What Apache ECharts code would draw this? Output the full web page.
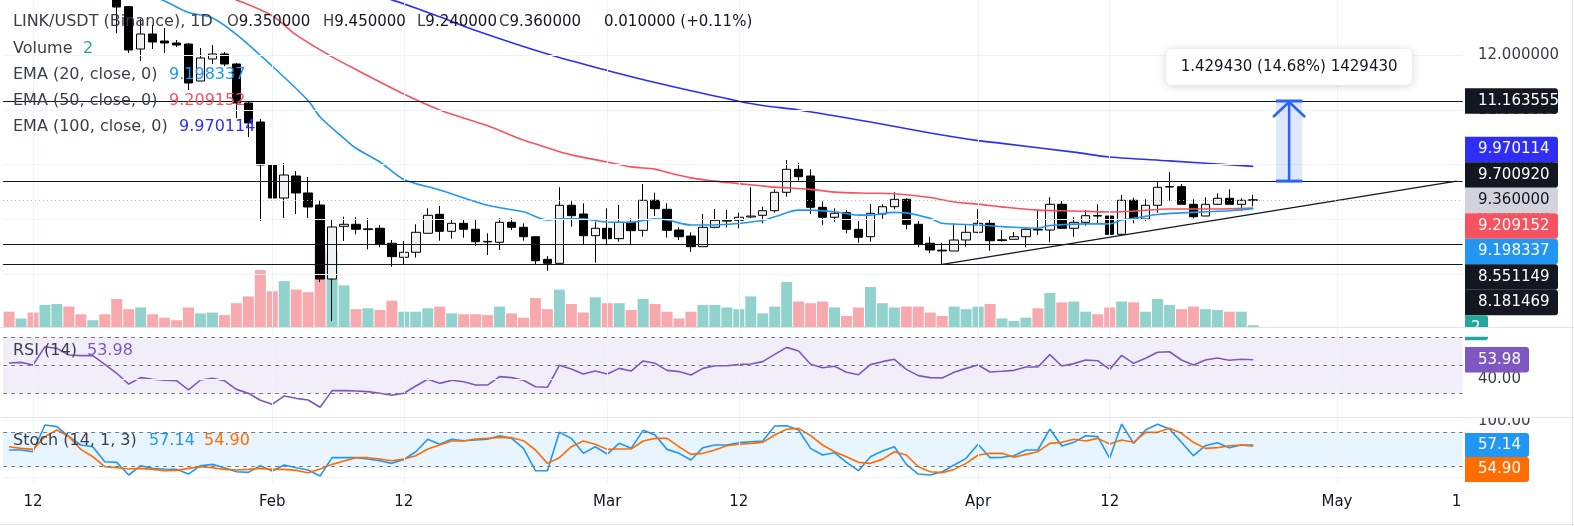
<!DOCTYPE html>
<html><head><meta charset="utf-8">
<script src="https://cdn.jsdelivr.net/npm/echarts@6/dist/echarts.min.js"></script>
<style>html,body{margin:0;padding:0;background:#fff}#c{width:1574px;height:526px}</style>
</head><body><div id="c"></div><script>
// ---------------- DATA ----------------
const CATEGORY_START = '2023-01-10';
const CATEGORY_END = '2023-05-11';
const CANDLE_START = '2023-01-10';

const opens = [14.10,13.85,14.00,13.60,13.90,14.20,13.80,13.55,13.75,13.30,
 12.886,12.113,12.387,12.259,12.223,12.204,11.529,11.931,12.022,11.839,
 11.127,10.780,9.995,9.392,9.794,9.484,9.264,7.913,8.875,8.912,
 8.815,8.839,8.565,8.309,8.401,8.748,9.094,8.784,8.930,8.821,
 8.600,8.583,8.948,8.857,8.685,8.272,8.199,9.259,9.100,8.704,
 8.839,8.649,8.948,8.802,9.350,9.186,8.808,8.698,8.503,8.857,
 8.970,8.985,9.045,9.076,9.160,9.496,9.916,9.794,9.222,9.040,
 9.124,8.820,8.685,9.100,9.233,9.368,8.912,8.565,8.440,8.424,
 8.625,8.766,8.930,8.616,8.638,8.685,8.820,8.808,9.277,8.839,
 8.948,9.070,9.063,8.729,9.350,9.008,9.259,9.593,9.599,9.277,
 9.063,9.277,9.387,9.277,9.350];
const closes = [13.85,14.00,13.60,13.90,14.20,13.80,13.55,13.75,13.30,12.88,
 12.095,12.387,12.241,12.223,12.186,11.492,11.949,12.022,11.839,11.127,
 10.762,9.995,9.392,9.812,9.484,9.228,7.913,8.863,8.912,8.821,
 8.830,8.552,8.321,8.401,8.766,9.076,8.784,8.930,8.821,8.594,
 8.590,8.948,8.857,8.685,8.247,8.199,9.259,9.069,8.704,8.839,
 8.649,8.948,8.795,9.350,9.197,8.802,8.685,8.503,8.857,8.985,
 8.985,9.040,9.063,9.160,9.496,9.916,9.781,9.222,9.040,9.113,
 8.820,8.674,9.113,9.233,9.368,8.912,8.552,8.443,8.425,8.625,
 8.766,8.930,8.612,8.630,8.685,8.820,8.808,9.277,8.839,8.948,
 9.069,9.063,8.729,9.350,9.008,9.259,9.588,9.600,9.277,9.050,
 9.277,9.387,9.277,9.350,9.360];
const lows = [13.70,13.75,13.50,13.45,13.80,13.70,13.45,13.40,13.20,12.40,
 12.040,11.894,12.113,12.040,12.150,11.364,11.529,11.839,11.800,10.853,
 10.506,8.972,9.228,9.027,9.100,9.027,7.858,7.146,8.607,8.729,
 8.455,8.491,8.138,8.187,8.302,8.748,8.613,8.649,8.667,8.516,
 8.351,8.443,8.808,8.612,8.187,8.064,8.199,8.869,8.552,8.210,
 8.547,8.594,8.547,8.686,9.063,8.667,8.625,8.411,8.503,8.840,
 8.857,8.839,9.030,8.930,9.124,9.416,9.708,9.100,8.904,8.959,
 8.748,8.576,8.594,9.014,9.186,8.820,8.492,8.382,8.181469,8.424,
 8.503,8.748,8.430,8.594,8.638,8.492,8.717,8.583,8.839,8.685,
 8.886,8.930,8.674,8.729,8.930,8.972,9.124,9.343,9.277,9.021,
 9.063,9.264,9.277,9.155,9.240];
const highs = [14.25,14.15,14.10,14.05,14.35,14.30,13.90,13.85,13.80,13.35,
 12.898,12.661,12.551,12.497,12.278,12.223,12.131,12.186,12.058,11.858,
 11.145,10.835,10.086,10.031,9.885,9.776,9.356,9.009,9.050,9.040,
 9.022,8.900,8.625,8.607,8.912,9.204,9.246,8.990,9.008,9.008,
 8.748,9.022,9.022,8.930,8.685,8.333,9.588,9.332,9.295,8.959,
 9.204,9.265,9.022,9.648,9.489,9.295,8.857,8.766,9.100,9.191,
 9.173,9.124,9.588,9.233,9.551,10.086,10.037,9.916,9.332,9.204,
 9.173,8.972,9.283,9.277,9.496,9.387,8.972,8.685,8.576,8.930,
 8.894,9.191,8.990,8.808,8.771,8.857,9.155,9.405,9.337,9.040,
 9.173,9.277,9.063,9.447,9.398,9.368,9.690,9.867,9.648,9.368,
 9.405,9.478,9.551,9.387,9.450];
const volumes = [18,10,17,26,27,24,15,8,15,33,
 21,23,15,11,8,23,16,17,14,28,
 36,67,42,54,44,41,94,89,49,21,
 22,20,31,18,18,22,24,16,15,15,
 14,24,16,11,34,21,44,27,17,35,
 28,28,20,33,27,18,10,18,26,26,
 23,21,36,16,24,53,30,28,30,23,
 13,23,47,28,23,24,24,17,13,24,
 21,24,27,10,7,11,22,40,29,30,
 18,15,23,30,29,18,33,26,21,24,
 21,20,18,18,2];
const rsi = [51.6,52.1,50.2,63.3,62.1,57.4,56.9,56.9,50.7,44.3,
 36.6,41.2,40.0,39.3,39.0,32.4,39.5,40.7,39.0,32.8,
 30.0,25.0,22.1,28.1,26.4,25.2,20.0,31.9,31.9,31.6,
 31.2,30.0,28.6,30.0,35.2,40.0,37.1,39.3,38.3,35.9,
 35.9,41.9,41.2,39.3,34.7,34.3,50.0,47.4,43.8,45.9,
 43.8,47.8,45.9,53.1,51.4,46.4,45.5,43.1,47.8,49.7,
 49.7,50.5,50.9,52.6,57.8,62.8,60.2,50.7,48.3,49.3,
 45.0,43.3,50.5,52.6,54.3,47.1,42.6,41.2,40.9,45.0,
 47.8,50.2,45.2,45.7,46.4,48.8,48.8,57.6,49.5,51.2,
 53.8,53.3,47.1,57.1,51.4,55.0,59.3,59.7,53.8,50.2,
 53.8,55.2,53.6,54.3,53.98];
const stochK = [48.4,48.4,45.4,92.4,89.5,71.9,57.2,54.2,27.8,26.7,
 4.4,20.8,16.1,14.9,14.3,6.1,20.8,23.1,17.3,10.2,
 9.1,20.8,11.4,22.0,17.3,13.2,2.6,34.9,34.9,34.9,
 32.5,29.6,24.9,31.9,45.4,67.2,58.4,67.2,64.8,66.0,
 67.2,73.6,68.9,51.3,12.0,12.0,79.5,68.9,42.5,54.2,
 41.3,60.1,51.3,83.0,74.8,49.5,42.5,30.8,52.5,57.2,
 57.2,61.3,63.0,64.2,90.6,91.2,83.6,51.3,39.6,43.7,
 26.7,12.0,36.6,46.6,54.2,23.1,6.1,4.4,10.2,22.0,
 33.7,58.4,34.9,35.5,38.4,48.4,48.4,85.3,55.4,61.9,
 73.6,71.9,33.7,94.1,60.1,83.6,93.6,85.3,61.9,38.4,
 56.0,61.3,52.5,57.2,57.14];
const stochD = [54.2,51.3,49.5,71.9,83.6,71.9,49.5,36.6,19.0,17.3,
 14.9,16.1,14.3,12.0,12.6,16.1,19.0,17.3,14.3,13.2,
 14.3,16.1,14.3,14.3,12.6,8.5,14.9,23.1,29.0,34.9,
 34.9,32.5,29.6,32.5,38.4,50.1,57.2,64.2,64.2,67.7,
 68.9,70.7,70.1,64.8,48.4,24.9,34.9,54.2,64.2,58.4,
 49.5,50.1,50.1,64.2,68.9,68.9,54.2,40.7,42.5,48.4,
 56.0,58.4,60.1,61.9,74.8,85.0,86.5,73.6,57.2,45.4,
 36.6,26.7,24.9,31.9,45.4,39.6,19.0,10.2,8.5,14.3,
 24.9,39.6,42.5,42.5,35.5,40.7,45.4,60.1,61.9,67.2,
 64.2,68.9,58.9,66.0,61.9,79.5,79.5,86.5,77.7,61.9,
 51.3,52.5,56.0,57.2,54.90];

const ema20 = [['2023-01-17',13.55],['2023-01-20',13.25],['2023-01-23',12.99],['2023-01-25',12.78],['2023-01-27',12.68],
 ['2023-01-29',12.38],['2023-02-01',11.80],['2023-02-04',11.17],['2023-02-05',10.87],['2023-02-07',10.48],['2023-02-08',10.30],
 ['2023-02-10',10.05],['2023-02-12',9.73],['2023-02-15',9.54],['2023-02-19',9.26],['2023-02-22',9.14],['2023-02-24',8.99],
 ['2023-02-25',9.01],['2023-02-27',9.01],['2023-03-01',8.95],['2023-03-03',8.95],['2023-03-05',9.01],['2023-03-06',8.99],
 ['2023-03-08',8.90],['2023-03-10',8.90],['2023-03-14',8.98],['2023-03-15',9.05],['2023-03-17',9.17],['2023-03-18',9.17],
 ['2023-03-20',9.14],['2023-03-22',9.08],['2023-03-23',9.08],['2023-03-25',9.13],['2023-03-26',9.12],['2023-03-28',9.02],
 ['2023-03-29',8.93],['2023-04-01',8.90],['2023-04-03',8.87],['2023-04-06',8.84],['2023-04-07',8.89],['2023-04-10',8.92],
 ['2023-04-12',8.92],['2023-04-13',8.99],['2023-04-14',9.02],['2023-04-16',9.09],['2023-04-18',9.12],['2023-04-20',9.14],
 ['2023-04-22',9.16],['2023-04-24',9.198337]];
const ema50 = [['2023-01-26',13.25],['2023-01-29',13.01],['2023-02-01',12.72],['2023-02-03',12.37],['2023-02-06',11.97],
 ['2023-02-08',11.74],['2023-02-12',11.29],['2023-02-15',11.00],['2023-02-19',10.71],['2023-02-22',10.45],['2023-02-24',10.31],
 ['2023-02-26',10.18],['2023-03-01',10.05],['2023-03-03',9.96],['2023-03-05',9.92],['2023-03-06',9.86],['2023-03-08',9.76],
 ['2023-03-10',9.70],['2023-03-14',9.61],['2023-03-15',9.59],['2023-03-18',9.55],['2023-03-20',9.50],['2023-03-23',9.48],
 ['2023-03-25',9.47],['2023-03-28',9.40],['2023-03-30',9.32],['2023-04-01',9.28],['2023-04-03',9.23],['2023-04-06',9.17],
 ['2023-04-09',9.155],['2023-04-12',9.136],['2023-04-14',9.15],['2023-04-17',9.19],['2023-04-20',9.19],['2023-04-24',9.209152]];
const ema100 = [['2023-02-05',13.35],['2023-02-11',13.01],['2023-02-15',12.70],['2023-02-18',12.45],['2023-02-24',12.02],
 ['2023-03-01',11.72],['2023-03-05',11.50],['2023-03-08',11.35],['2023-03-12',11.16],['2023-03-14',11.08],['2023-03-17',11.00],
 ['2023-03-23',10.78],['2023-03-28',10.58],['2023-04-01',10.44],['2023-04-03',10.39],['2023-04-09',10.23],['2023-04-12',10.14],
 ['2023-04-17',10.07],['2023-04-24',9.970114]];

const LEVELS = [11.163555, 9.700920, 8.551149, 8.181469];
const TREND = [['2023-03-29', 8.181469], ['2023-05-11', 9.700920]];
const MEASURE = {date:'2023-04-27', from:9.700920, to:11.163555, label:'1.429430 (14.68%) 1429430'};
const PRICE_GRID = [8, 9, 10, 11, 12];
const TICKS = [['2023-01-12','12'],['2023-02-01','Feb'],['2023-02-12','12'],['2023-03-01','Mar'],
 ['2023-03-12','12'],['2023-04-01','Apr'],['2023-04-12','12'],['2023-05-01','May'],['2023-05-11','1']];
const TITLE = 'LINK/USDT (Binance), 1D';

// ---------------- BUILD ----------------
const categories = [];
for (let t = Date.parse(CATEGORY_START+'T00:00:00Z'); t <= Date.parse(CATEGORY_END+'T00:00:00Z'); t += 86400000)
  categories.push(new Date(t).toISOString().slice(0,10));
const off = categories.indexOf(CANDLE_START);
const align = arr => categories.map((c,i) => { const k=i-off; return (k>=0 && k<arr.length) ? arr[k] : '-'; });
const last = a => a[a.length-1];
const lastV = a => a[a.length-1][1];

const UP='#f0f1f3', DOWN='#000000';
const VOL_UP='#92d2cc', VOL_DOWN='#f8a9ad';
const C_EMA20='#2196f3', C_EMA50='#f7525f', C_EMA100='#2e2ef7';
const C_RSI='#7e57c2', C_K='#2196f3', C_D='#ff6d00';
const GRIDC='#f0f3fa', TXT='#131722', TXT2='#3d4049';
const FONT='DejaVu Sans';

const candleData = categories.map((c,i)=>{const k=i-off; return (k>=0&&k<opens.length)?[opens[k],closes[k],lows[k],highs[k]]:'-';});
const volData = categories.map((c,i)=>{const k=i-off; if(k<0||k>=volumes.length) return '-';
  return {value:volumes[k], itemStyle:{color: closes[k]>=opens[k]?VOL_UP:VOL_DOWN}};});

const tickMap = new Map(TICKS);
const BAND = 11.963;
const L = 33 - 2.5*BAND, W = categories.length*BAND;
const vGrid = TICKS.filter(t=>t[1]!=='1').map(t=>({xAxis:t[0]}));
const ml = (data, style) => ({silent:true, symbol:['none','none'], label:{show:false}, lineStyle:style, emphasis:{disabled:true}, data});

const option = {
  animation:false, backgroundColor:'#ffffff',
  grid:[
    {left:L, width:W, top:0, height:327},
    {left:L, width:W, top:0, height:327},
    {left:L, width:W, top:327.5, height:89.5},
    {left:L, width:W, top:417.5, height:65.5}
  ],
  xAxis:[0,1,2,3].map(i=>({type:'category', data:categories, gridIndex:i, boundaryGap:true,
    axisLine:{show:false}, axisTick:{show:false}, splitLine:{show:false},
    axisLabel: i===3 ? {show:true, interval:(idx,val)=>tickMap.has(val), formatter:v=>tickMap.get(v)||'',
      color:TXT, fontSize:15, fontFamily:FONT, margin:12} : {show:false}})),
  yAxis:[
    {gridIndex:0, min:7.0363, max:13.008, show:false},
    {gridIndex:1, min:0, max:384.7, show:false},
    {gridIndex:2, min:13.07, max:77.0, show:false},
    {gridIndex:3, min:-9.68, max:105.6, show:false}
  ],
  series:[
    {type:'line', xAxisIndex:0, yAxisIndex:0, data:[], z:0,
      markLine: ml(PRICE_GRID.map(v=>({yAxis:v})).concat(vGrid), {color:GRIDC, width:1, type:'solid'})},
    {type:'bar', xAxisIndex:1, yAxisIndex:1, data:volData, barWidth:11, z:1, silent:true},
    {type:'candlestick', xAxisIndex:0, yAxisIndex:0, data:candleData, barWidth:9, z:3,
      itemStyle:{color:UP, color0:DOWN, borderColor:'#000', borderColor0:'#000', borderWidth:1}},
    {type:'line', xAxisIndex:0, yAxisIndex:0, data:ema100, showSymbol:false, smooth:0.3, z:4, lineStyle:{color:C_EMA100, width:1.6}},
    {type:'line', xAxisIndex:0, yAxisIndex:0, data:ema50, showSymbol:false, smooth:0.3, z:4, lineStyle:{color:C_EMA50, width:1.6}},
    {type:'line', xAxisIndex:0, yAxisIndex:0, data:ema20, showSymbol:false, smooth:0.3, z:4, lineStyle:{color:C_EMA20, width:1.6}},
    {type:'line', xAxisIndex:0, yAxisIndex:0, data:[], z:5,
      markLine: ml(LEVELS.map(v=>({yAxis:v})).concat([[{coord:TREND[0]},{coord:TREND[1]}]]), {color:TXT, width:1.2, type:'solid'})},
    {type:'line', xAxisIndex:0, yAxisIndex:0, data:[], z:2,
      markLine: ml([{yAxis:last(closes)}], {color:'#b2b5be', width:1, type:[1,3]})},
    {type:'custom', xAxisIndex:0, yAxisIndex:0, z:6, silent:true,
      data:[[MEASURE.date, MEASURE.from, MEASURE.to]],
      renderItem:(params, api)=>{
        const b = api.coord([api.value(0), api.value(1)]);
        const t = api.coord([api.value(0), api.value(2)]);
        const band = api.size([1,0])[0];
        const hw = band*1.1, cx=b[0], yb=b[1], yt=t[1];
        const blue='#2962ff';
        return {type:'group', children:[
          {type:'rect', shape:{x:cx-hw, y:yt, width:2*hw, height:yb-yt}, style:{fill:'rgba(41,98,255,0.15)'}},
          {type:'line', shape:{x1:cx, y1:yt+1, x2:cx, y2:yb}, style:{stroke:blue, lineWidth:2.5}},
          {type:'line', shape:{x1:cx-hw, y1:yt, x2:cx+hw, y2:yt}, style:{stroke:blue, lineWidth:3}},
          {type:'line', shape:{x1:cx-hw, y1:yb, x2:cx+hw, y2:yb}, style:{stroke:blue, lineWidth:3}},
          {type:'polyline', shape:{points:[[cx-16,yt+16],[cx,yt+1],[cx+16,yt+16]]}, style:{stroke:blue, lineWidth:2.5, fill:null}},
          {type:'rect', shape:{x:cx-123, y:yt-52, width:246, height:36, r:6},
            style:{fill:'#ffffff', shadowBlur:8, shadowColor:'rgba(0,0,0,0.18)', shadowOffsetY:1}},
          {type:'text', style:{text:MEASURE.label, x:cx, y:yt-34, align:'center', verticalAlign:'middle',
            fontSize:15, fontFamily:FONT, fill:TXT}}
        ]};
      }},
    // RSI pane
    {type:'line', xAxisIndex:2, yAxisIndex:2, data:[], z:0,
      markLine: ml([{yAxis:40}].concat(vGrid), {color:GRIDC, width:1, type:'solid'}),
      markArea:{silent:true, itemStyle:{color:'rgba(126,87,194,0.1)'}, data:[[{yAxis:70},{yAxis:30}]]}},
    {type:'line', xAxisIndex:2, yAxisIndex:2, data:[], z:1,
      markLine: ml([{yAxis:70},{yAxis:50},{yAxis:30}], {color:'#787b86', width:1, type:[4,4]})},
    {type:'line', xAxisIndex:2, yAxisIndex:2, data:align(rsi), showSymbol:false, z:3, lineStyle:{color:C_RSI, width:1.6}},
    // Stoch pane
    {type:'line', xAxisIndex:3, yAxisIndex:3, data:[], z:0,
      markLine: ml([{yAxis:100},{yAxis:0}].concat(vGrid), {color:GRIDC, width:1, type:'solid'}),
      markArea:{silent:true, itemStyle:{color:'rgba(33,150,243,0.1)'}, data:[[{yAxis:80},{yAxis:20}]]}},
    {type:'line', xAxisIndex:3, yAxisIndex:3, data:[], z:1,
      markLine: ml([{yAxis:80},{yAxis:20}], {color:'#787b86', width:1, type:[4,4]})},
    {type:'line', xAxisIndex:3, yAxisIndex:3, data:align(stochK), showSymbol:false, z:3, lineStyle:{color:C_K, width:1.6}},
    {type:'line', xAxisIndex:3, yAxisIndex:3, data:align(stochD), showSymbol:false, z:4, lineStyle:{color:C_D, width:1.6}}
  ]
};

const chart = echarts.init(document.getElementById('c'));
chart.setOption(option);

// ---------------- OVERLAY TEXT / AXIS TAGS ----------------
const G = [];
const LFS = 16; // legend font size
const text = (x, y, t, fill, extra, fs) => G.push({type:'text', x, y, z:100, silent:true,
  style:Object.assign({text:t, fill, fontSize:fs||15, fontFamily:FONT, verticalAlign:'middle', align:'left'}, extra||{})});
const box = (x, y, w, h, fill, r) => G.push({type:'rect', z:100, silent:true, shape:{x, y, width:w, height:h, r:r||0}, style:{fill}});
const f6 = v => v.toFixed(6);

// legend
text(13, 22, TITLE, TXT2, null, LFS);
[['O',opens],['H',highs],['L',lows],['C',closes]].forEach((p,i)=>{
  const xs=[227,323,417,499][i];
  text(xs, 22, `{l|${p[0]}}{v|${f6(last(p[1]))}}`, TXT, {rich:{l:{fill:TXT2, fontSize:15, fontFamily:FONT}, v:{fill:TXT, fontSize:15, fontFamily:FONT}}}, 15);
});
const chg = last(closes)-closes[closes.length-2];
text(604, 22, `${f6(chg)} (+${(chg/closes[closes.length-2]*100).toFixed(2)}%)`, TXT, null, 15);
text(13, 49, 'Volume', TXT2, null, LFS); text(83, 49, String(last(volumes)), '#26a69a', null, LFS);
text(13, 75, 'EMA (20, close, 0)', TXT2, null, LFS); text(169, 75, f6(lastV(ema20)), C_EMA20, null, LFS);
text(13, 101, 'EMA (50, close, 0)', TXT2, null, LFS); text(169, 101, f6(lastV(ema50)), C_EMA50, null, LFS);
text(13, 127, 'EMA (100, close, 0)', TXT2, null, LFS); text(179, 127, f6(lastV(ema100)), C_EMA100, null, LFS);
text(13, 351, 'RSI (14)', TXT2, null, LFS); text(87, 351, last(rsi).toFixed(2), C_RSI, null, LFS);
text(13, 441, 'Stoch (14, 1, 3)', TXT2, null, LFS); text(149, 441, last(stochK).toFixed(2), C_K, null, LFS); text(204, 441, last(stochD).toFixed(2), C_D, null, LFS);

// right price scale
const AX = 1465, TX = 1478, TAG_W = 93, TAG_H = 25.5, STACK_TOP = 136.7;
const py = v => chart.convertToPixel({yAxisIndex:0}, v);
PRICE_GRID.forEach(v => text(TX, py(v), v.toFixed(6), TXT2));
const tag = (cy, t, bg, fg, w) => { box(AX, cy-TAG_H/2, w||TAG_W, TAG_H, bg, [0,3,3,0]); text(TX, cy, t, fg); };
tag(py(LEVELS[0]), f6(LEVELS[0]), TXT, '#fff');
const stack = [
  [lastV(ema100), C_EMA100, '#fff'], [LEVELS[1], TXT, '#fff'], [last(closes), '#d1d4dc', TXT],
  [lastV(ema50), C_EMA50, '#fff'], [lastV(ema20), C_EMA20, '#fff'], [LEVELS[2], TXT, '#fff'], [LEVELS[3], TXT, '#fff']
];
stack.forEach((s,i)=> tag(STACK_TOP + TAG_H*(i+0.5), f6(s[0]), s[1], s[2]));
// volume tag (partly hidden by pane separator)
box(AX, STACK_TOP + TAG_H*stack.length, 23, 25, '#26a69a', [0,3,3,0]);
text(AX+6, STACK_TOP + TAG_H*stack.length + 12.5, String(last(volumes)), '#fff');
box(1458, 327.8, 116, 9, '#ffffff');
// RSI scale
const ry = v => chart.convertToPixel({yAxisIndex:2}, v);
text(TX, ry(40), '40.00', TXT2);
tag(ry(last(rsi)), last(rsi).toFixed(2), C_RSI, '#fff', 64);
// Stoch scale
const sy = v => chart.convertToPixel({yAxisIndex:3}, v);
text(TX, sy(100), '100.00', TXT2);
box(1458, 406, 116, 11.5, '#ffffff');
const kY = sy(last(stochK));
box(AX, kY-12, 64, 24, C_K, [0,3,3,0]); text(TX, kY, last(stochK).toFixed(2), '#fff');
box(AX, kY+12, 64, 25, C_D, [0,3,3,0]); text(TX, kY+24.5, last(stochD).toFixed(2), '#fff');
// separators and frame
const hl = (x1,y1,x2,y2,c) => G.push({type:'line', z:101, silent:true, shape:{x1,y1,x2,y2}, style:{stroke:c, lineWidth:1}});
hl(0, 327.5, 1574, 327.5, '#e0e3eb');
hl(0, 417.5, 1574, 417.5, '#e0e3eb');
hl(1572.5, 0, 1572.5, 526, '#e0e3eb');
hl(0, 524.5, 1574, 524.5, '#e0e3eb');

chart.setOption({graphic: G});
</script></body></html>
